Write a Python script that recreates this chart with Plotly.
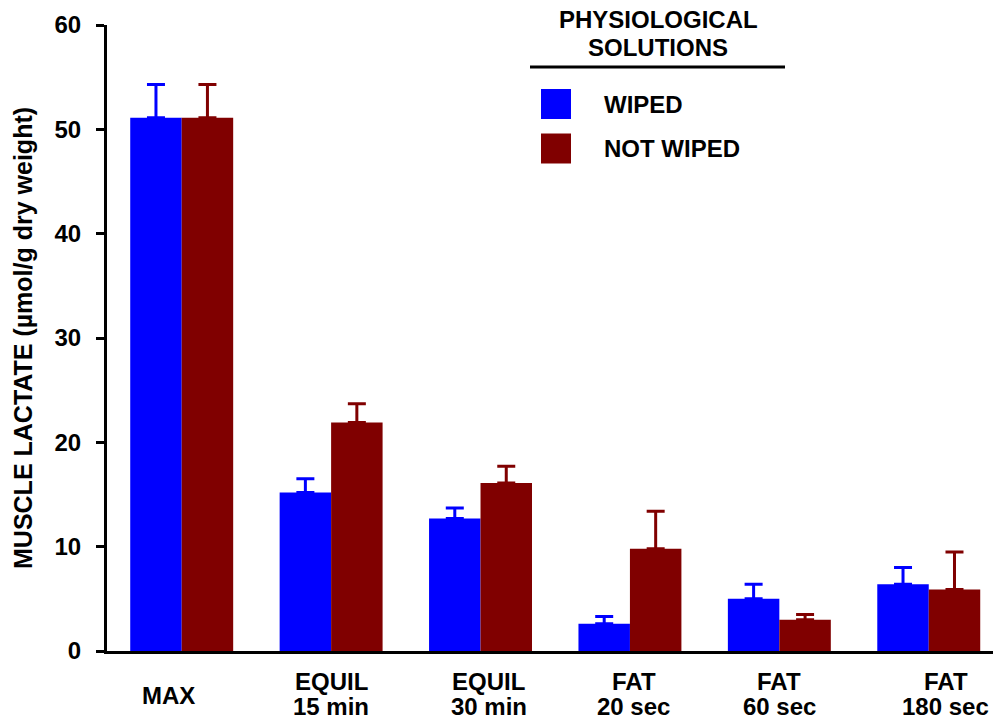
import plotly.graph_objects as go

# Muscle lactate by condition, wiped vs not wiped (mean + SEM)
categories = ["MAX", "EQUIL 15", "EQUIL 30", "FAT 20", "FAT 60", "FAT 180"]
tick_labels = ["MAX", "EQUIL<br>15 min", "EQUIL<br>30 min", "FAT<br>20 sec", "FAT<br>60 sec", "FAT<br>180 sec"]
label_shift = [-13, 0, 8, 4, 0, 17]

series_names = ["WIPED", "NOT WIPED"]
wiped = [51.1, 15.2, 12.7, 2.6, 5.0, 6.4]
wiped_sem = [3.2, 1.3, 1.0, 0.7, 1.4, 1.6]
not_wiped = [51.1, 21.9, 16.1, 9.8, 3.0, 5.9]
not_wiped_sem = [3.2, 1.8, 1.6, 3.6, 0.5, 3.6]

colors = ["#0000ff", "#800000"]
FONT = "Liberation Sans, Arial, sans-serif"

W, H = 995, 723
L, R, T, B = 107, 2, 25, 72
PW, PH = W - L - R, H - T - B


def px(x):
    return (x - L) / PW


def py(y):
    return (H - B - y) / PH


fig = go.Figure()
for name, vals, sem, col in zip(series_names, [wiped, not_wiped], [wiped_sem, not_wiped_sem], colors):
    fig.add_trace(go.Bar(
        x=categories, y=vals, name=name,
        marker=dict(color=col, line=dict(width=0)),
        error_y=dict(type="data", symmetric=False, array=sem, arrayminus=[0] * len(sem),
                     color=col, thickness=3, width=9),
        showlegend=False,
    ))

annotations = []
# category labels below the axis
for cat, lab, sh in zip(categories, tick_labels, label_shift):
    lines = lab.split("<br>")
    if len(lines) == 1:
        ys = [695]
    else:
        ys = [681, 706]
    for ln, yy in zip(lines, ys):
        annotations.append(dict(x=cat, xref="x", y=py(yy), yref="paper", text=ln,
                                showarrow=False, xshift=sh, yanchor="middle", xanchor="center",
                                font=dict(family=FONT, size=24, color="black", weight="bold")))

# y-axis title
annotations.append(dict(x=px(23), y=py(338), xref="paper", yref="paper",
                        text="MUSCLE LACTATE (µmol/g dry weight)", textangle=-90,
                        showarrow=False, xanchor="center", yanchor="middle",
                        font=dict(family=FONT, size=25, color="black", weight="bold")))

# legend heading
for txt, yy in [("PHYSIOLOGICAL", 19.5), ("SOLUTIONS", 47.5)]:
    annotations.append(dict(x=px(658), y=py(yy), xref="paper", yref="paper", text=txt,
                            showarrow=False, xanchor="center", yanchor="middle",
                            font=dict(family=FONT, size=24, color="black", weight="bold")))

shapes = [dict(type="line", xref="paper", yref="paper", x0=px(530), x1=px(785),
               y0=py(67), y1=py(67), line=dict(color="black", width=3))]

# legend entries
for name, col, yc in zip(series_names, colors, [104, 148.5]):
    shapes.append(dict(type="rect", xref="paper", yref="paper",
                       x0=px(541), x1=px(571), y0=py(yc - 15), y1=py(yc + 15),
                       fillcolor=col, line=dict(width=0)))
    annotations.append(dict(x=px(602), y=py(yc), xref="paper", yref="paper", text=name,
                            showarrow=False, xanchor="left", yanchor="middle",
                            font=dict(family=FONT, size=24, color="black", weight="bold")))

fig.update_layout(
    width=W, height=H,
    margin=dict(l=L, r=R, t=T, b=B),
    paper_bgcolor="white", plot_bgcolor="white",
    barmode="group", bargap=0.311, bargroupgap=0,
    annotations=annotations, shapes=shapes,
    xaxis=dict(type="category", range=[-0.5, 5.43], showticklabels=False, ticks="",
               showline=True, linecolor="black", linewidth=3, showgrid=False, zeroline=False),
    yaxis=dict(range=[0, 60], tickvals=[0, 10, 20, 30, 40, 50, 60], ticks="outside",
               ticklen=8, tickwidth=3, tickcolor="black", showline=True, linecolor="black",
               linewidth=3, showgrid=False, zeroline=False, ticklabelstandoff=10,
               tickfont=dict(family=FONT, size=24, color="black", weight="bold")),
)

fig.write_html("out.html")
